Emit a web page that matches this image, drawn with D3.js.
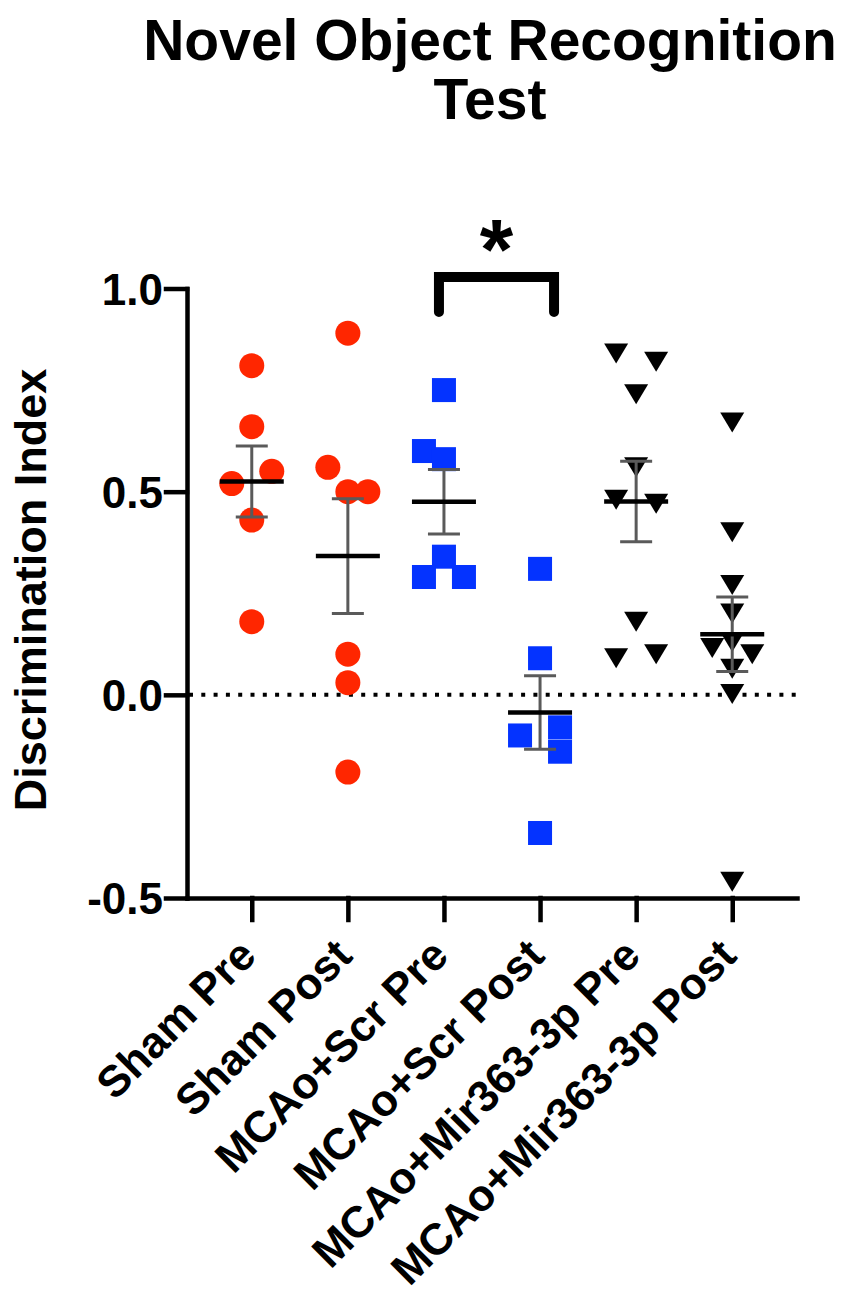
<!DOCTYPE html>
<html>
<head>
<meta charset="utf-8">
<script src="https://cdn.jsdelivr.net/npm/d3@7"></script>
<style>
  body { margin: 0; background: #fff; }
  text { font-family: "Liberation Sans", Arial, sans-serif; font-weight: bold; }
</style>
</head>
<body>
<div id="chart"></div>
<script>
// ---- data ----
let categories = ["Sham Pre", "Sham Post", "MCAo+Scr Pre", "MCAo+Scr Post", "MCAo+Mir363-3p Pre", "MCAo+Mir363-3p Post"];

let shamPre = [0.81, 0.66, 0.55, 0.52, 0.43, 0.18];
let shamPost = [0.89, 0.56, 0.50, 0.50, 0.10, 0.03, -0.19];
let scrPre = [0.75, 0.60, 0.58, 0.34, 0.29, 0.29];
let scrPost = [0.31, 0.09, -0.08, -0.10, -0.14, -0.34];
let mirPre = [0.84, 0.82, 0.74, 0.56, 0.48, 0.47, 0.18, 0.10, 0.09];
let mirPost = [0.67, 0.40, 0.27, 0.20, 0.13, 0.115, 0.10, 0.064, 0.002, -0.46];

// which side of the column each point sits on (-1 left, 0 centre, 1 right)
let shamPreSide = [0, 0, 1, -1, 0, 0];
let shamPostSide = [0, -1, 0, 1, 0, 0, 0];
let scrPreSide = [0, -1, 0, 0, -1, 1];
let scrPostSide = [0, 0, 1, -1, 1, 0];
let mirPreSide = [-1, 1, 0, 0, -1, 1, 0, 1, -1];
let mirPostSide = [0, 0, 0, 0, 0, -1, 1, 0, 0, 0];

let yTicks = [-0.5, 0.0, 0.5, 1.0];
let groups = [
  {name: categories[0], values: shamPre, side: shamPreSide, shape: "circle", color: "#FF2600"},
  {name: categories[1], values: shamPost, side: shamPostSide, shape: "circle", color: "#FF2600"},
  {name: categories[2], values: scrPre, side: scrPreSide, shape: "square", color: "#0433FF"},
  {name: categories[3], values: scrPost, side: scrPostSide, shape: "square", color: "#0433FF"},
  {name: categories[4], values: mirPre, side: mirPreSide, shape: "triangle", color: "#000"},
  {name: categories[5], values: mirPost, side: mirPostSide, shape: "triangle", color: "#000"}
];

// ---- sizes ----
let width = 851, height = 1300;
let axisLeftX = 187, axisRightX = 797, plotTop = 288.5, plotBottom = 898;

let svg = d3.select("#chart").append("svg")
  .attr("width", width)
  .attr("height", height);

let x = d3.scalePoint().domain(categories).range([axisLeftX, axisRightX]).padding(0.674);
let y = d3.scaleLinear().domain([-0.5, 1]).range([plotBottom, plotTop]);
let jitter = d3.scaleLinear().domain([-1, 1]).range([-20, 20]);

// title
svg.append("text").attr("x", 490).attr("y", 60).attr("text-anchor", "middle")
  .style("font-size", "57px").text("Novel Object Recognition");
svg.append("text").attr("x", 490).attr("y", 119).attr("text-anchor", "middle")
  .style("font-size", "57px").text("Test");

// y label
svg.append("text").attr("transform", "translate(46,590) rotate(-90)")
  .attr("text-anchor", "middle").style("font-size", "45px").text("Discrimination Index");

// dotted zero line
svg.append("line")
  .attr("x1", axisLeftX + 2).attr("x2", axisRightX)
  .attr("y1", y(0)).attr("y2", y(0))
  .attr("stroke", "#000").attr("stroke-width", 4).attr("stroke-dasharray", "4,8.3");

// axes
let yAxis = svg.append("g").attr("transform", `translate(${axisLeftX},0)`)
  .call(d3.axisLeft(y).tickValues(yTicks).tickFormat(d => d.toFixed(1)).tickSize(21).tickSizeOuter(0).tickPadding(3));
yAxis.selectAll("text").style("font-size", "44px").attr("dy", "0.36em");

let xAxis = svg.append("g").attr("transform", `translate(0,${plotBottom})`)
  .call(d3.axisBottom(x).tickSize(22).tickSizeOuter(0));
xAxis.selectAll("text")
  .attr("x", 0).attr("y", 0).attr("dy", null)
  .attr("text-anchor", "end")
  .attr("transform", "translate(6,60) rotate(-45)")
  .style("font-size", "44px");

svg.selectAll(".domain, .tick line")
  .attr("stroke", "#000").attr("stroke-width", 4.5).attr("stroke-linecap", "square");
svg.selectAll(".tick text").attr("fill", "#000");

// points
let pts = svg.append("g");
groups.forEach(function(g) {
  g.values.forEach(function(v, i) {
    let cx = x(g.name) + jitter(g.side[i]), cy = y(v);
    if (g.shape == "circle") {
      pts.append("circle").attr("cx", cx).attr("cy", cy).attr("r", 12.5).attr("fill", g.color);
    } else if (g.shape == "square") {
      pts.append("rect").attr("x", cx - 12).attr("y", cy - 12).attr("width", 24).attr("height", 24).attr("fill", g.color);
    } else {
      pts.append("path").attr("d", `M${cx-12},${cy-10}L${cx+12},${cy-10}L${cx},${cy+10}Z`).attr("fill", g.color);
    }
  });
});

// mean +/- SEM
let stats = svg.append("g");
groups.forEach(function(g) {
  let m = d3.mean(g.values);
  let sem = d3.deviation(g.values) / Math.sqrt(g.values.length);
  let cx = x(g.name);
  stats.append("line").attr("x1", cx).attr("x2", cx).attr("y1", y(m + sem)).attr("y2", y(m - sem))
    .attr("stroke", "#5a5a5a").attr("stroke-width", 3);
  [m + sem, m - sem].forEach(function(e) {
    stats.append("line").attr("x1", cx - 16).attr("x2", cx + 16).attr("y1", y(e)).attr("y2", y(e))
      .attr("stroke", "#5a5a5a").attr("stroke-width", 3);
  });
  stats.append("line").attr("x1", cx - 32).attr("x2", cx + 32).attr("y1", y(m)).attr("y2", y(m))
    .attr("stroke", "#000").attr("stroke-width", 4.5);
});

// significance bracket
let bx1 = x(categories[2]) - 5, bx2 = x(categories[3]) + 14, bTop = 277, bBot = 312;
svg.append("path")
  .attr("d", `M${bx1},${bBot}V${bTop}H${bx2}V${bBot}`)
  .attr("fill", "none").attr("stroke", "#000").attr("stroke-width", 10).attr("stroke-linecap", "round");
svg.append("text").attr("x", (bx1 + bx2) / 2).attr("y", 279).attr("text-anchor", "middle")
  .style("font-size", "86px").text("*");
</script>
</body>
</html>
